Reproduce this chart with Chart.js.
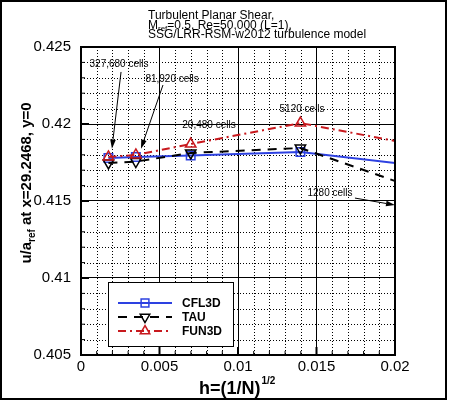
<!DOCTYPE html>
<html><head><meta charset="utf-8">
<script src="https://cdn.jsdelivr.net/npm/chart.js@4.4.1/dist/chart.umd.min.js"></script>
<style>html,body{margin:0;padding:0;background:#fff;}canvas{display:block;}</style>
</head><body>
<canvas id="c" width="450" height="401" style="width:450px;height:401px"></canvas>
<script>
// ---- data ----
const hValues = [0.001747, 0.003494, 0.006988, 0.013975, 0.027951];
const cellCounts = ['327,680 cells', '81,920 cells', '20,480 cells', '5120 cells', '1280 cells'];
const cfl3dValues = [0.41779, 0.41786, 0.41795, 0.41818, 0.41653];
const tauValues = [0.41747, 0.41756, 0.41812, 0.41844, 0.41348];
const fun3dValues = [0.41786, 0.41799, 0.41870, 0.42006, 0.41737];
const seriesNames = ['CFL3D', 'TAU', 'FUN3D'];
const xTickLabels = ['0', '0.005', '0.01', '0.015', '0.02'];
const yTickLabels = ['0.405', '0.41', '0.415', '0.42', '0.425'];

// annotation placement (data coordinates)
const annotations = [
  {i: 0, x: 0.00242, y: 0.42390, arrow: [0.00255, 0.42338, 0.00197, 0.41840]},
  {i: 1, x: 0.00580, y: 0.42292, arrow: [0.00522, 0.42253, 0.00382, 0.41840]},
  {i: 2, x: 0.00815, y: 0.41994},
  {i: 3, x: 0.01408, y: 0.42097},
  {i: 4, x: 0.01586, y: 0.41552, arrow: [0.01745, 0.41519, 0.02000, 0.41474]}
];

const BLUE = 'rgb(45,65,225)', RED = 'rgb(200,25,30)', BLACK = '#000';
const FONT = 'Arial, "Liberation Sans", Helvetica, sans-serif';
const isMajor = v => Math.abs(v / 0.005 - Math.round(v / 0.005)) < 1e-6;

function pts(vals) { return hValues.map((h, i) => ({x: h, y: vals[i]})); }

const datasets = [
  {label: seriesNames[0], data: pts(cfl3dValues), borderColor: BLUE, borderWidth: 2, borderDash: [],
   pointStyle: 'rect', pointRotation: 0, pointRadius: 6, pointBorderWidth: 1.5, pointBorderColor: BLUE,
   pointBackgroundColor: 'rgba(0,0,0,0)', backgroundColor: 'rgba(0,0,0,0)', order: 2},
  {label: seriesNames[1], data: pts(tauValues), borderColor: BLACK, borderWidth: 2, borderDash: [9, 7],
   pointStyle: 'triangle', pointRotation: 180, pointRadius: 6, pointBorderWidth: 1.5, pointBorderColor: BLACK,
   pointBackgroundColor: 'rgba(0,0,0,0)', backgroundColor: 'rgba(0,0,0,0)', order: 1},
  {label: seriesNames[2], data: pts(fun3dValues), borderColor: RED, borderWidth: 2, borderDash: [8, 4, 2, 4],
   pointStyle: 'triangle', pointRotation: 0, pointRadius: 6, pointBorderWidth: 1.5, pointBorderColor: RED,
   pointBackgroundColor: 'rgba(0,0,0,0)', backgroundColor: 'rgba(0,0,0,0)', order: 0}
];

function drawMarker(ctx, style, rot, x, y, r, color) {
  ctx.save();
  ctx.strokeStyle = color; ctx.lineWidth = 1.5; ctx.setLineDash([]);
  ctx.beginPath();
  if (style === 'rect') {
    const s = r * Math.SQRT1_2;
    ctx.rect(x - s, y - s, 2 * s, 2 * s);
  } else {
    const dir = rot === 180 ? -1 : 1;
    const w = Math.sqrt(3) * r / 2;
    ctx.moveTo(x, y - dir * r);
    ctx.lineTo(x - w, y + dir * r / 2);
    ctx.lineTo(x + w, y + dir * r / 2);
    ctx.closePath();
  }
  ctx.stroke();
  ctx.restore();
}

function arrow(ctx, x1, y1, x2, y2) {
  ctx.save();
  ctx.strokeStyle = '#000'; ctx.fillStyle = '#000'; ctx.lineWidth = 1; ctx.setLineDash([]);
  const ang = Math.atan2(y2 - y1, x2 - x1);
  const L = 9, W = 2.8;
  const bx = x2 - L * Math.cos(ang), by = y2 - L * Math.sin(ang);
  ctx.beginPath(); ctx.moveTo(x1, y1); ctx.lineTo(bx, by); ctx.stroke();
  ctx.beginPath();
  ctx.moveTo(x2, y2);
  ctx.lineTo(bx + W * Math.sin(ang), by - W * Math.cos(ang));
  ctx.lineTo(bx - W * Math.sin(ang), by + W * Math.cos(ang));
  ctx.closePath(); ctx.fill();
  ctx.restore();
}

const decor = {
  id: 'decor',
  beforeDraw(chart) {
    const ctx = chart.ctx;
    ctx.save(); ctx.fillStyle = '#fff'; ctx.fillRect(0, 0, chart.width, chart.height); ctx.restore();
  },
  beforeDatasetsDraw(chart) {
    // dotted minor grid (every 0.001) through the scales
    const ctx = chart.ctx, ca = chart.chartArea, xs = chart.scales.x, ys = chart.scales.y;
    ctx.save();
    ctx.strokeStyle = '#000'; ctx.lineWidth = 1; ctx.setLineDash([1, 2]);
    for (let k = 0; k <= 20; k++) {
      const vx = xs.min + k * 0.001;
      if (!isMajor(vx)) {
        const p = Math.round(xs.getPixelForValue(vx)) + 0.5;
        ctx.beginPath(); ctx.moveTo(p, ca.top); ctx.lineTo(p, ca.bottom); ctx.stroke();
      }
      const vy = ys.min + k * 0.001;
      if (!isMajor(vy)) {
        const p = Math.round(ys.getPixelForValue(vy)) + 0.5;
        ctx.beginPath(); ctx.moveTo(ca.left, p); ctx.lineTo(ca.right, p); ctx.stroke();
      }
    }
    ctx.restore();
  },
  afterDatasetsDraw(chart) {
    const ctx = chart.ctx, xs = chart.scales.x, ys = chart.scales.y;
    ctx.save();
    ctx.font = '10px ' + FONT; ctx.fillStyle = '#000';
    ctx.textAlign = 'center'; ctx.textBaseline = 'middle';
    annotations.forEach(a => {
      if (a.arrow) {
        arrow(ctx, xs.getPixelForValue(a.arrow[0]), ys.getPixelForValue(a.arrow[1]),
                   xs.getPixelForValue(a.arrow[2]), ys.getPixelForValue(a.arrow[3]));
      }
      ctx.fillText(cellCounts[a.i], xs.getPixelForValue(a.x), ys.getPixelForValue(a.y));
    });
    ctx.restore();
  },
  afterDraw(chart) {
    const ctx = chart.ctx, ca = chart.chartArea, xs = chart.scales.x, ys = chart.scales.y;
    ctx.save();
    // tick marks
    ctx.strokeStyle = '#000'; ctx.setLineDash([]);
    for (let k = 0; k <= 20; k++) {
      const vx = xs.min + k * 0.001, mx = isMajor(vx);
      const px = xs.getPixelForValue(vx);
      ctx.lineWidth = mx ? 2 : 1;
      ctx.beginPath(); ctx.moveTo(px, ca.bottom); ctx.lineTo(px, ca.bottom - (mx ? 8 : 4)); ctx.stroke();
      const vy = ys.min + k * 0.001, my = isMajor(vy);
      const py = ys.getPixelForValue(vy);
      ctx.lineWidth = my ? 2 : 1;
      ctx.beginPath(); ctx.moveTo(ca.left, py); ctx.lineTo(ca.left + (my ? 8 : 4), py); ctx.stroke();
    }
    // plot frame
    ctx.lineWidth = 2;
    ctx.strokeRect(ca.left, ca.top, ca.right - ca.left, ca.bottom - ca.top);
    // outer border
    ctx.strokeRect(1, 1, 445, 398);

    // title
    ctx.fillStyle = '#000'; ctx.textAlign = 'left'; ctx.textBaseline = 'alphabetic';
    ctx.font = '12px ' + FONT;
    ctx.fillText('Turbulent Planar Shear,', 148, 18.5);
    let x = 148;
    ctx.fillText('M', x, 28.5); x += ctx.measureText('M').width;
    ctx.font = '8px ' + FONT; ctx.fillText('ref', x, 31); x += ctx.measureText('ref').width;
    ctx.font = '12px ' + FONT; ctx.fillText('=0.5, Re=50,000 (L=1),', x, 28.5);
    ctx.fillText('SSG/LRR-RSM-w2012 turbulence model', 148, 38);

    // x axis title
    ctx.font = 'bold 18px ' + FONT;
    const xt = 'h=(1/N)';
    const w1 = ctx.measureText(xt).width;
    const xStart = 199;
    ctx.fillText(xt, xStart, 394);
    ctx.font = 'bold 10px ' + FONT; ctx.fillText('1/2', xStart + w1 + 1, 384);

    // y axis title (rotated)
    ctx.save();
    ctx.translate(31, 183); ctx.rotate(-Math.PI / 2);
    ctx.font = 'bold 15px ' + FONT;
    const p1 = 'u/a', p3 = ' at x=29.2468, y=0';
    const a1 = ctx.measureText(p1).width, a3 = ctx.measureText(p3).width;
    ctx.font = 'bold 10px ' + FONT;
    const a2 = ctx.measureText('ref').width;
    let sx = -(a1 + a2 + a3) / 2;
    ctx.font = 'bold 15px ' + FONT; ctx.fillText(p1, sx, 0); sx += a1;
    ctx.font = 'bold 10px ' + FONT; ctx.fillText('ref', sx, 4); sx += a2;
    ctx.font = 'bold 15px ' + FONT; ctx.fillText(p3, sx, 0);
    ctx.restore();

    // legend
    const lx = 108, ly = 282, lw = 125, lh = 64;
    ctx.fillStyle = '#fff'; ctx.fillRect(lx, ly, lw, lh);
    ctx.lineWidth = 1; ctx.strokeStyle = '#000'; ctx.strokeRect(lx + 0.5, ly + 0.5, lw, lh);
    chart.data.datasets.forEach((ds, i) => {
      const yy = 303 + i * 14;
      ctx.save();
      ctx.strokeStyle = ds.borderColor; ctx.lineWidth = 2; ctx.setLineDash(ds.borderDash);
      ctx.beginPath(); ctx.moveTo(118, yy); ctx.lineTo(172, yy); ctx.stroke();
      ctx.restore();
      drawMarker(ctx, ds.pointStyle, ds.pointRotation, 145, yy, 5.5, ds.pointBorderColor);
      ctx.fillStyle = '#000'; ctx.font = 'bold 12px ' + FONT; ctx.textBaseline = 'middle';
      ctx.fillText(ds.label, 182, yy + 1);
    });
    ctx.restore();
  }
};

const gridCommon = {
  color: c => (c.tick && isMajor(c.tick.value)) ? '#000' : 'rgba(0,0,0,0)',
  lineWidth: 1,
  drawTicks: false
};
const borderCommon = {display: true, color: '#000', width: 2};

new Chart(document.getElementById('c'), {
  type: 'line',
  data: {datasets},
  options: {
    responsive: false, animation: false, devicePixelRatio: 1,
    maintainAspectRatio: false,
    layout: {padding: {left: 0, top: 47, right: 55, bottom: 0}},
    plugins: {legend: {display: false}, title: {display: false}, tooltip: {enabled: false}},
    elements: {line: {tension: 0}},
    scales: {
      x: {
        type: 'linear', min: 0, max: 0.02,
        afterFit: s => { s.height = 46; },
        grid: gridCommon, border: borderCommon,
        ticks: {
          stepSize: 0.005, autoSkip: false, maxRotation: 0, padding: 3,
          color: '#000', font: {family: FONT, size: 15},
          callback: v => isMajor(v) ? xTickLabels[Math.round(v / 0.005)] : ''
        }
      },
      y: {
        type: 'linear', min: 0.405, max: 0.425,
        afterFit: s => { s.width = 81; },
        grid: gridCommon, border: borderCommon,
        ticks: {
          stepSize: 0.005, autoSkip: false, padding: 10,
          color: '#000', font: {family: FONT, size: 15},
          callback: v => isMajor(v) ? yTickLabels[Math.round((v - 0.405) / 0.005)] : ''
        }
      }
    }
  },
  plugins: [decor]
});
</script>
</body></html>
